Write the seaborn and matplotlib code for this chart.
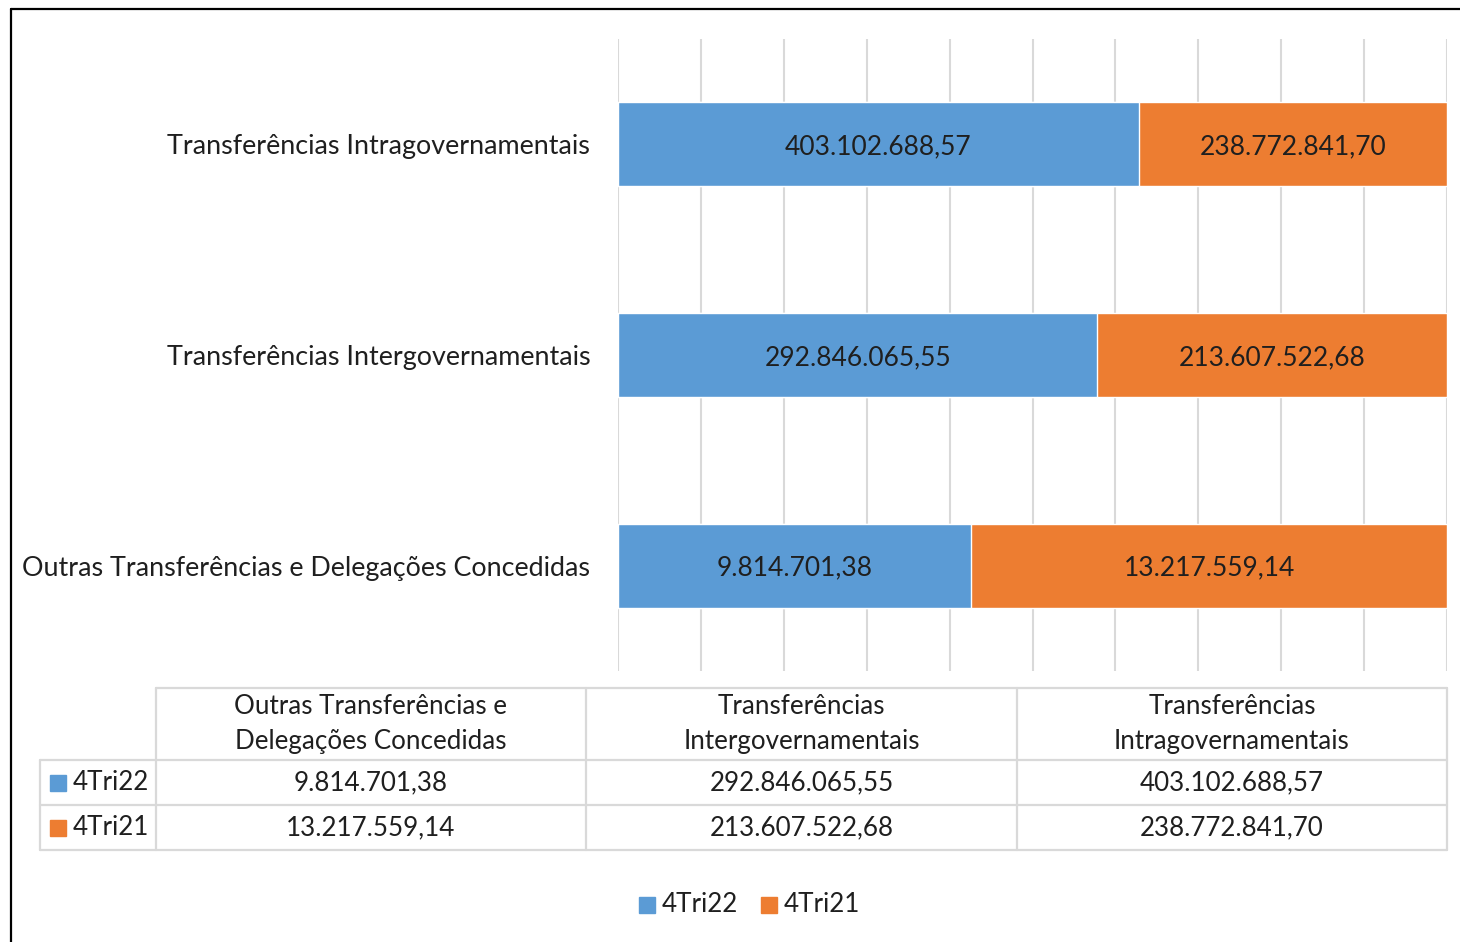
import pandas as pd
import seaborn as sns
import matplotlib.pyplot as plt
from matplotlib.patches import Rectangle

# --- dados ---
categorias = ['Transferências Intragovernamentais',
              'Transferências Intergovernamentais',
              'Outras Transferências e Delegações Concedidas']
tri22 = [403102688.57, 292846065.55, 9814701.38]
tri21 = [238772841.70, 213607522.68, 13217559.14]
series = ['4Tri22', '4Tri21']
# cabeçalhos da tabela (ordem inversa, como no Excel)
cab_tabela = ['Outras Transferências e\nDelegações Concedidas',
              'Transferências\nIntergovernamentais',
              'Transferências\nIntragovernamentais']

AZUL = '#5B9BD5'
LARANJA = '#ED7D31'
GRADE = '#D9D9D9'
TEXTO = '#1f1f1f'
FS = 18.7


def fmt_br(v):
    s = f"{v:,.2f}"
    return s.replace(',', 'X').replace('.', ',').replace('X', '.')


df = pd.DataFrame({'categoria': categorias, '4Tri22': tri22, '4Tri21': tri21})
df['total'] = df['4Tri22'] + df['4Tri21']
df['p22'] = df['4Tri22'] / df['total'] * 100
df['p100'] = 100.0

sns.set_style('white')
plt.rcParams['font.family'] = ['Lato', 'DejaVu Sans']

W, H = 1460, 942
fig = plt.figure(figsize=(W / 100, H / 100), dpi=100)


def fx(px):
    return px / W


def fy(py):
    return 1 - py / H


# moldura
fig.add_artist(plt.Line2D([fx(11), fx(11)], [fy(9), fy(942)], color='black', lw=1.6))
fig.add_artist(plt.Line2D([fx(11), fx(1460)], [fy(9), fy(9)], color='black', lw=1.6))

ax = fig.add_axes([fx(618), fy(671), fx(1447 - 618), (671 - 39) / H])

# barras 100% empilhadas: laranja total por baixo, azul por cima
sns.barplot(data=df, y='categoria', x='p100', order=categorias, color=LARANJA,
            width=0.4, ax=ax, orient='h', saturation=1)
sns.barplot(data=df, y='categoria', x='p22', order=categorias, color=AZUL,
            width=0.4, ax=ax, orient='h', saturation=1)

ax.set_xlim(0, 100)
ax.set_ylim(2.5, -0.5)
ax.set_xticks(range(0, 101, 10))
ax.set_xticklabels([])
ax.tick_params(axis='both', length=0)
ax.grid(axis='x', color=GRADE, lw=1.5)
ax.set_axisbelow(True)
for s in ax.spines.values():
    s.set_visible(False)
ax.set_xlabel('')
ax.set_ylabel('')
ax.set_yticks(range(len(categorias)))
ax.set_yticklabels(categorias, fontsize=19.4, color=TEXTO)
ax.tick_params(axis='y', pad=20)

# rótulos das barras
for i, row in df.iterrows():
    ax.text(row['p22'] / 2, i, fmt_br(row['4Tri22']), ha='center', va='center_baseline',
            fontsize=19, color=TEXTO)
    ax.text((row['p22'] + 100) / 2, i, fmt_br(row['4Tri21']), ha='center',
            va='center_baseline', fontsize=19, color=TEXTO)

# --- tabela de dados ---
col_x = [40, 156, 586, 1017, 1447]
row_y = [688, 760, 805, 850]
lw_t = 1.6
# linhas horizontais
fig.add_artist(plt.Line2D([fx(156), fx(1447)], [fy(688), fy(688)], color=GRADE, lw=lw_t))
for y in row_y[1:]:
    fig.add_artist(plt.Line2D([fx(40), fx(1447)], [fy(y), fy(y)], color=GRADE, lw=lw_t))
# linhas verticais
fig.add_artist(plt.Line2D([fx(40), fx(40)], [fy(760), fy(850)], color=GRADE, lw=lw_t))
for x in col_x[1:]:
    fig.add_artist(plt.Line2D([fx(x), fx(x)], [fy(688), fy(850)], color=GRADE, lw=lw_t))

valores_tabela = {'4Tri22': tri22[::-1], '4Tri21': tri21[::-1]}
cores = {'4Tri22': AZUL, '4Tri21': LARANJA}
for j, cab in enumerate(cab_tabela):
    cx = (col_x[j + 1] + col_x[j + 2]) / 2
    fig.text(fx(cx), fy(724), cab, ha='center', va='center', fontsize=FS,
             color=TEXTO, linespacing=1.55)
for r, nome in enumerate(series):
    cy = (row_y[r + 1] + row_y[r + 2]) / 2
    fig.add_artist(Rectangle((fx(50), fy(cy + 8)), fx(16), 16 / H, color=cores[nome]))
    fig.text(fx(73), fy(cy), nome, ha='left', va='center', fontsize=FS, color=TEXTO)
    for j, v in enumerate(valores_tabela[nome]):
        cx = (col_x[j + 1] + col_x[j + 2]) / 2
        fig.text(fx(cx), fy(cy), fmt_br(v), ha='center', va='center', fontsize=FS,
                 color=TEXTO)

# legenda
leg_x = [639, 761]
for nome, lx in zip(series, leg_x):
    fig.add_artist(Rectangle((fx(lx), fy(913)), fx(16), 16 / H, color=cores[nome]))
    fig.text(fx(lx + 23), fy(905), nome, ha='left', va='center', fontsize=FS, color=TEXTO)

fig.savefig('out.png', dpi=100)
